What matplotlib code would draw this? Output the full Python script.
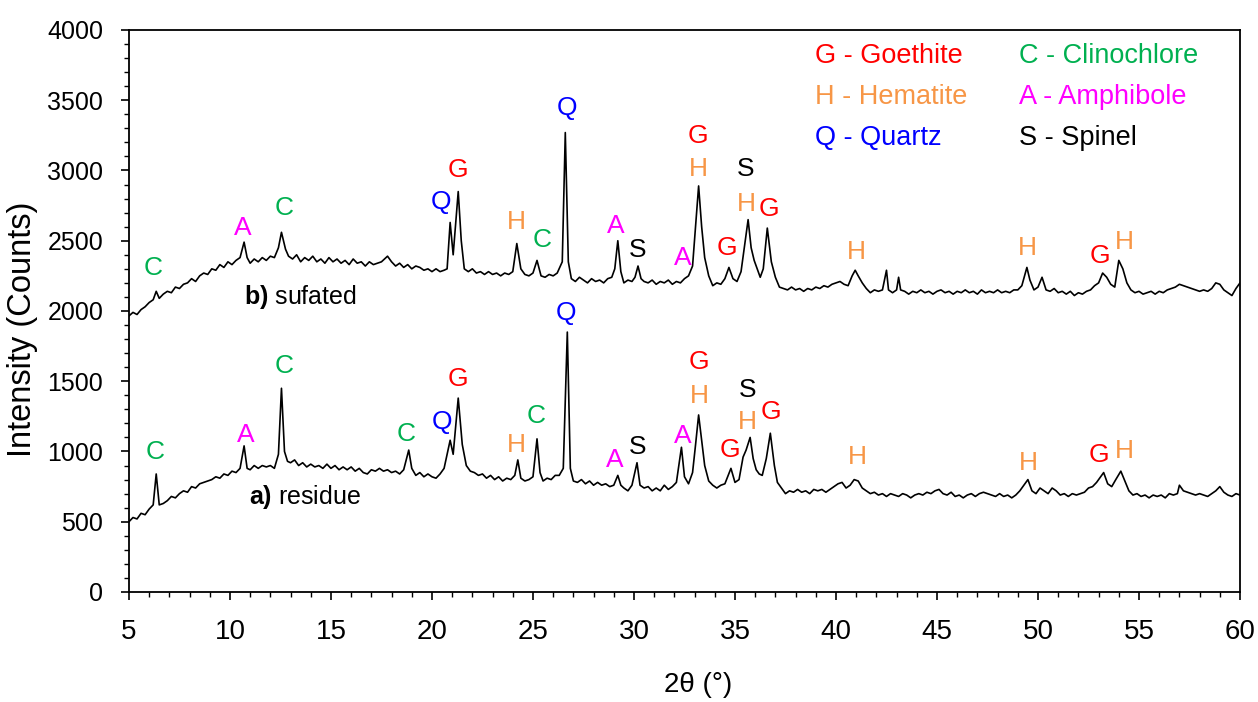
import matplotlib
matplotlib.use("Agg")
import matplotlib.pyplot as plt
from matplotlib.ticker import MultipleLocator

plt.rcParams['font.family'] = ['Liberation Sans', 'DejaVu Sans']
plt.rcParams['mathtext.fontset'] = 'custom'
plt.rcParams['mathtext.rm'] = 'Liberation Sans'
plt.rcParams['mathtext.bf'] = 'Liberation Sans:bold'

# ---------------- data ----------------
sulfated_2theta = [
    5.0, 5.2, 5.4, 5.6, 5.8, 6.0, 6.2, 6.35, 6.5, 6.7, 6.9, 7.1, 7.3, 7.5, 7.7, 7.9,
    8.1, 8.3, 8.5, 8.7, 8.9, 9.1, 9.3, 9.5, 9.7, 9.9, 10.1, 10.3, 10.5, 10.7, 10.85,
    11.0, 11.2, 11.4, 11.6, 11.8, 12.0, 12.2, 12.4, 12.55, 12.75, 12.9, 13.1, 13.3,
    13.5, 13.7, 13.9, 14.1, 14.3, 14.5, 14.7, 14.9, 15.1, 15.3, 15.5, 15.7, 15.9,
    16.1, 16.3, 16.5, 16.7, 16.9, 17.1, 17.3, 17.5, 17.8, 18.0, 18.2, 18.4, 18.6,
    18.8, 19.0, 19.2, 19.4, 19.6, 19.8, 20.0, 20.2, 20.4, 20.6, 20.75, 20.9, 21.05,
    21.3, 21.45, 21.6, 21.8, 22.0, 22.2, 22.4, 22.6, 22.8, 23.0, 23.2, 23.4, 23.6,
    23.8, 24.0, 24.2, 24.4, 24.6, 24.8, 25.0, 25.2, 25.4, 25.6, 25.8, 26.0, 26.2,
    26.45, 26.6, 26.75, 26.9, 27.1, 27.3, 27.5, 27.7, 27.9, 28.1, 28.3, 28.5, 28.7,
    28.9, 29.05, 29.2, 29.35, 29.5, 29.7, 29.9, 30.05, 30.2, 30.35, 30.5, 30.7, 30.9,
    31.1, 31.3, 31.5, 31.7, 31.9, 32.1, 32.3, 32.5, 32.7, 32.9, 33.05, 33.2, 33.35,
    33.5, 33.7, 33.9, 34.1, 34.3, 34.5, 34.7, 34.9, 35.1, 35.3, 35.45, 35.65, 35.8,
    35.95, 36.1, 36.25, 36.4, 36.6, 36.8, 37.0, 37.2, 37.4, 37.6, 37.8, 38.0, 38.2,
    38.4, 38.6, 38.8, 39.0, 39.2, 39.4, 39.6, 39.8, 40.0, 40.2, 40.4, 40.6, 40.8,
    40.95, 41.1, 41.3, 41.5, 41.7, 41.9, 42.1, 42.3, 42.5, 42.6, 42.8, 43.0, 43.1,
    43.2, 43.4, 43.6, 43.8, 44.0, 44.2, 44.4, 44.6, 44.8, 45.0, 45.2, 45.4, 45.6,
    45.8, 46.0, 46.2, 46.4, 46.6, 46.8, 47.0, 47.2, 47.4, 47.6, 47.8, 48.0, 48.2,
    48.4, 48.6, 48.8, 49.0, 49.2, 49.45, 49.6, 49.8, 50.0, 50.2, 50.4, 50.6, 50.8,
    51.0, 51.2, 51.4, 51.6, 51.8, 52.0, 52.2, 52.4, 52.6, 52.8, 53.0, 53.2, 53.4,
    53.6, 53.8, 54.0, 54.2, 54.4, 54.6, 54.8, 55.0, 55.2, 55.4, 55.6, 55.8, 56.0,
    56.2, 56.4, 56.6, 56.8, 57.0, 57.2, 57.4, 57.6, 57.8, 58.0, 58.2, 58.4, 58.6,
    58.8, 59.0, 59.2, 59.4, 59.6, 59.8, 60.0,
]
sulfated_counts = [
    1965, 1990, 1975, 2010, 2030, 2060, 2080, 2140, 2090, 2120, 2140, 2130, 2170, 2160, 2190, 2200,
    2230, 2210, 2250, 2270, 2260, 2300, 2290, 2330, 2310, 2350, 2330, 2360, 2380, 2490, 2380,
    2340, 2370, 2350, 2380, 2360, 2390, 2380, 2450, 2560, 2440, 2390, 2370, 2400,
    2350, 2380, 2360, 2390, 2350, 2370, 2340, 2380, 2350, 2370, 2340, 2360, 2330,
    2370, 2340, 2350, 2320, 2350, 2330, 2340, 2350, 2390, 2350, 2320, 2340, 2310,
    2330, 2300, 2320, 2310, 2290, 2300, 2280, 2300, 2280, 2290, 2300, 2630, 2400,
    2850, 2500, 2300, 2280, 2300, 2270, 2280, 2260, 2280, 2260, 2270, 2250, 2270,
    2260, 2280, 2480, 2300, 2260, 2250, 2270, 2360, 2250, 2240, 2260, 2250, 2270,
    2350, 3270, 2350, 2230, 2210, 2240, 2220, 2200, 2230, 2210, 2220, 2200, 2230,
    2240, 2300, 2500, 2280, 2200, 2220, 2210, 2240, 2320, 2230, 2210, 2200, 2220,
    2190, 2210, 2200, 2220, 2190, 2210, 2200, 2230, 2250, 2320, 2600, 2890, 2600,
    2380, 2250, 2180, 2200, 2190, 2230, 2310, 2230, 2210, 2280, 2440, 2650, 2450,
    2360, 2300, 2240, 2300, 2590, 2350, 2240, 2170, 2160, 2150, 2170, 2150, 2160,
    2140, 2160, 2150, 2170, 2160, 2180, 2170, 2190, 2200, 2210, 2190, 2180, 2250,
    2290, 2250, 2200, 2160, 2130, 2150, 2140, 2150, 2290, 2150, 2130, 2150, 2240,
    2150, 2140, 2120, 2140, 2130, 2150, 2130, 2140, 2120, 2140, 2150, 2130, 2140,
    2120, 2140, 2130, 2150, 2130, 2140, 2120, 2150, 2130, 2140, 2130, 2150, 2130,
    2140, 2130, 2150, 2150, 2180, 2310, 2220, 2150, 2170, 2240, 2150, 2140, 2160,
    2130, 2140, 2120, 2140, 2110, 2130, 2120, 2140, 2150, 2180, 2200, 2270, 2240,
    2190, 2170, 2360, 2300, 2200, 2150, 2130, 2140, 2120, 2130, 2140, 2120, 2140,
    2130, 2150, 2160, 2170, 2190, 2180, 2170, 2160, 2150, 2140, 2150, 2140, 2160,
    2200, 2190, 2150, 2130, 2110, 2160, 2200,
]

residue_2theta = [
    5.0, 5.2, 5.4, 5.6, 5.8, 6.0, 6.2, 6.35, 6.5, 6.7, 6.9, 7.1, 7.3, 7.5, 7.7, 7.9,
    8.1, 8.3, 8.5, 8.7, 8.9, 9.1, 9.3, 9.5, 9.7, 9.9, 10.1, 10.3, 10.5, 10.7, 10.85,
    11.0, 11.2, 11.4, 11.6, 11.8, 12.0, 12.2, 12.4, 12.55, 12.7, 12.85, 13.0, 13.2,
    13.4, 13.6, 13.8, 14.0, 14.2, 14.4, 14.6, 14.8, 15.0, 15.2, 15.4, 15.6, 15.8,
    16.0, 16.2, 16.4, 16.6, 16.8, 17.0, 17.2, 17.4, 17.6, 17.8, 18.0, 18.2, 18.4,
    18.6, 18.85, 19.0, 19.2, 19.4, 19.6, 19.8, 20.0, 20.2, 20.4, 20.6, 20.9, 21.05,
    21.3, 21.5, 21.7, 21.9, 22.1, 22.3, 22.5, 22.7, 22.9, 23.1, 23.3, 23.5, 23.7,
    23.9, 24.1, 24.25, 24.4, 24.6, 24.8, 25.0, 25.2, 25.35, 25.5, 25.7, 25.9, 26.1,
    26.3, 26.5, 26.7, 26.85, 27.0, 27.2, 27.4, 27.6, 27.8, 28.0, 28.2, 28.4, 28.6,
    28.8, 29.0, 29.2, 29.35, 29.5, 29.7, 29.9, 30.15, 30.3, 30.5, 30.7, 30.9, 31.1,
    31.3, 31.5, 31.7, 31.9, 32.1, 32.35, 32.5, 32.7, 32.9, 33.05, 33.2, 33.35, 33.5,
    33.7, 33.9, 34.1, 34.3, 34.5, 34.8, 35.0, 35.2, 35.4, 35.55, 35.75, 35.9, 36.05,
    36.2, 36.35, 36.55, 36.75, 36.95, 37.1, 37.3, 37.5, 37.7, 37.9, 38.1, 38.3, 38.5,
    38.7, 38.9, 39.1, 39.3, 39.5, 39.7, 39.9, 40.1, 40.3, 40.5, 40.7, 40.9, 41.1,
    41.3, 41.5, 41.7, 41.9, 42.1, 42.3, 42.5, 42.7, 42.9, 43.1, 43.3, 43.5, 43.7,
    43.9, 44.1, 44.3, 44.5, 44.7, 44.9, 45.1, 45.3, 45.5, 45.7, 45.9, 46.1, 46.3,
    46.5, 46.7, 46.9, 47.1, 47.3, 47.5, 47.7, 47.9, 48.1, 48.3, 48.5, 48.7, 48.9,
    49.1, 49.3, 49.5, 49.7, 49.9, 50.1, 50.3, 50.5, 50.7, 50.9, 51.1, 51.3, 51.5,
    51.7, 51.9, 52.1, 52.3, 52.5, 52.7, 52.9, 53.1, 53.25, 53.45, 53.65, 53.85, 54.1,
    54.3, 54.5, 54.7, 54.9, 55.1, 55.3, 55.5, 55.7, 55.9, 56.1, 56.3, 56.5, 56.7,
    56.9, 57.0, 57.2, 57.4, 57.6, 57.8, 58.0, 58.2, 58.4, 58.6, 58.8, 59.0, 59.2,
    59.4, 59.6, 59.8, 60.0,
]
residue_counts = [
    500, 530, 520, 560, 550, 590, 620, 840, 620, 630, 650, 680, 670, 700, 720, 710,
    750, 740, 770, 780, 790, 800, 820, 810, 840, 830, 860, 850, 880, 1040, 880,
    870, 900, 880, 900, 890, 900, 880, 980, 1450, 1000, 930, 920, 940,
    900, 920, 890, 910, 890, 900, 880, 910, 880, 900, 870, 890, 870,
    890, 860, 880, 850, 840, 870, 860, 880, 860, 870, 850, 860, 840,
    870, 1010, 880, 830, 850, 820, 840, 820, 810, 840, 880, 1080, 980,
    1380, 1050, 900, 860, 850, 830, 840, 810, 830, 800, 820, 790, 810,
    800, 830, 940, 810, 790, 800, 820, 1090, 850, 790, 810, 800, 830,
    830, 880, 1850, 880, 790, 780, 800, 770, 790, 760, 780, 760, 770,
    750, 760, 830, 760, 740, 720, 760, 920, 760, 740, 750, 720, 740,
    720, 760, 730, 750, 780, 1030, 820, 770, 850, 1050, 1260, 1080, 900,
    790, 760, 740, 760, 770, 880, 780, 800, 960, 1010, 1100, 950, 870,
    840, 830, 950, 1130, 900, 780, 740, 700, 720, 710, 730, 710, 720,
    700, 730, 720, 730, 710, 730, 750, 770, 780, 740, 760, 800, 790,
    740, 720, 700, 710, 690, 700, 680, 700, 690, 680, 700, 690, 670,
    690, 700, 690, 710, 700, 720, 730, 700, 690, 710, 680, 690, 670,
    690, 700, 680, 700, 710, 700, 690, 680, 700, 680, 690, 670, 690,
    720, 760, 800, 720, 700, 740, 720, 700, 740, 720, 690, 700, 680,
    700, 690, 700, 710, 740, 750, 780, 820, 850, 770, 750, 800, 860,
    790, 720, 690, 700, 680, 690, 670, 690, 680, 690, 670, 700, 690,
    700, 760, 720, 710, 700, 690, 700, 690, 680, 700, 720, 750, 710,
    690, 680, 700, 690,
]

# peak annotation letters: (letter, 2theta, counts)
sulfated_marks = [
    ("C", 6.2, 2306), ("A", 10.65, 2590), ("C", 12.67, 2733), ("Q", 20.45, 2776),
    ("G", 21.3, 3003), ("H", 24.2, 2633), ("C", 25.45, 2505), ("Q", 26.7, 3445),
    ("A", 29.1, 2605), ("S", 30.2, 2434), ("A", 32.4, 2377), ("G", 33.17, 3245),
    ("H", 33.17, 3011), ("G", 34.6, 2448), ("S", 35.55, 3011), ("H", 35.55, 2761),
    ("G", 36.7, 2726), ("H", 41.0, 2420), ("H", 49.45, 2448), ("G", 53.05, 2391),
    ("H", 54.3, 2491),
]
residue_marks = [
    ("C", 6.29, 996), ("A", 10.8, 1117), ("C", 12.67, 1608), ("C", 18.7, 1124),
    ("Q", 20.5, 1210), ("G", 21.3, 1516), ("H", 24.2, 1046), ("C", 25.15, 1253),
    ("Q", 26.63, 1986), ("A", 29.06, 939), ("S", 30.2, 1032), ("A", 32.42, 1110),
    ("G", 33.22, 1637), ("H", 33.22, 1395), ("G", 34.75, 1011), ("S", 35.64, 1438),
    ("H", 35.6, 1210), ("G", 36.78, 1281), ("H", 41.04, 961), ("H", 49.5, 918),
    ("G", 53.0, 975), ("H", 54.26, 1003),
]

phase_colors = {"G": "#FF0000", "H": "#F79646", "Q": "#0000FF",
                "C": "#00B050", "A": "#FF00FF", "S": "#000000"}
legend_rows = [("G - Goethite", "C - Clinochlore"),
               ("H - Hematite", "A - Amphibole"),
               ("Q - Quartz", "S - Spinel")]

# ---------------- figure ----------------
fig = plt.figure(figsize=(12.58, 7.02), dpi=100)
ax = fig.add_axes([0.1025, 0.1567, 0.8832, 0.8006])

ax.plot(residue_2theta, residue_counts, color="black", lw=1.2)
ax.plot(sulfated_2theta, sulfated_counts, color="black", lw=1.2)

for marks in (sulfated_marks, residue_marks):
    for letter, x, y in marks:
        ax.text(x, y, letter, color=phase_colors[letter], fontsize=19,
                ha="center", va="center")

ax.text(13.47, 2100, r"$\mathbf{b)}$ sufated", fontsize=18, ha="center", va="center")
ax.text(13.7, 676, r"$\mathbf{a)}$ residue", fontsize=18, ha="center", va="center")

# legend drawn as coloured text
leg_x = [38.96, 49.06]
leg_y = [3765, 3473, 3181]
for r, row in enumerate(legend_rows):
    for c, txt in enumerate(row):
        ax.text(leg_x[c], leg_y[r], txt, color=phase_colors[txt[0]], fontsize=19.5,
                ha="left", va="baseline")

ax.set_xlim(5, 60)
ax.set_ylim(0, 4000)
ax.xaxis.set_major_locator(MultipleLocator(5))
ax.xaxis.set_minor_locator(MultipleLocator(1))
ax.yaxis.set_major_locator(MultipleLocator(500))
ax.yaxis.set_minor_locator(MultipleLocator(100))
ax.tick_params(axis="both", which="major", direction="out", length=5.5, width=1.2)
ax.tick_params(axis="both", which="minor", direction="out", length=3.3, width=1.0)
ax.tick_params(axis="y", which="major", labelsize=18, pad=13)
ax.tick_params(axis="x", which="major", labelsize=20, pad=14)
for s in ax.spines.values():
    s.set_linewidth(1.3)

fig.text(698 / 1258, 1 - 685 / 702, "2θ (°)", fontsize=20,
         ha="center", va="center")
fig.text(23 / 1258, 1 - 329 / 702, "Intensity (Counts)", fontsize=23.5,
         rotation=90, ha="center", va="center")

fig.savefig("out.png", dpi=100)
